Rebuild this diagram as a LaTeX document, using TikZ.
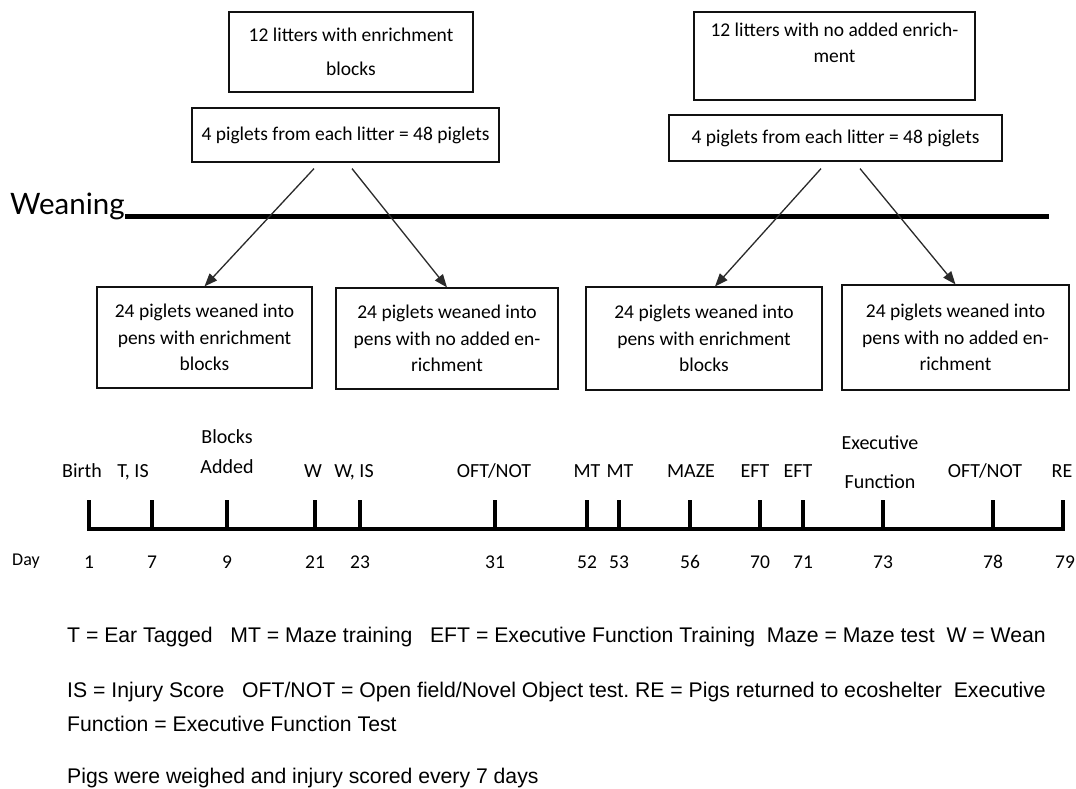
\documentclass[tikz,border=0pt]{standalone}
\usepackage{fontspec}
\setmainfont{Carlito}
\newfontfamily\weanfont{Lato}
\newfontfamily\keyfont{Liberation Sans}
\usepackage{tikz}
\usetikzlibrary{arrows.meta,calc}
\definecolor{ink}{HTML}{111111}
\definecolor{flowink}{HTML}{2A2A2A}
\tikzset{
  litter/.style={
    draw=ink,
    line width=1.2pt,
    fill=white,
    align=center,
    font=\fontsize{19.5}{26.5}\selectfont,
    inner sep=0pt
  },
  flow/.style={line width=1.3pt, draw=flowink, -{Triangle[length=13pt,width=10pt]}},
  weanline/.style={line width=5pt, draw=black},
  timeline/.style={line width=4.5pt, draw=black, line join=miter},
  daytick/.style={line width=4pt, draw=black},
  event/.style={font=\fontsize{20}{30}\selectfont, align=center, inner sep=0pt},
  daynum/.style={font=\fontsize{19.5}{22}\selectfont, inner sep=0pt},
  key/.style={font=\keyfont\fontsize{21.2}{34}\selectfont, anchor=base west, align=left, inner sep=0pt}
}

\begin{document}
\begin{tikzpicture}[x=1pt,y=-1pt]
\path[use as bounding box] (0,0) rectangle (1076,789);
\fill[white] (0,0) rectangle (1076,789);

\node[litter, minimum width=244pt, minimum height=80pt] (enrich) at (351,52) {12 litters with enrichment\\[8pt]blocks};
\node[litter, minimum width=307pt, minimum height=54pt] (enrichpick) at (345.5,135) {4 piglets from each litter = 48 piglets};
\node[litter, minimum width=281pt, minimum height=88pt] (plain) at (834.5,56) {12 litters with no added enrich-\\ment\\\mbox{}};
\node[litter, minimum width=333pt, minimum height=46pt] (plainpick) at (835.5,138) {4 piglets from each litter = 48 piglets};

\node[font=\weanfont\fontsize{29.5}{30}\selectfont, anchor=base west, inner sep=0pt] (weaning) at (10,214) {Weaning};
\coordinate (weanend) at (1049,216);
\draw[weanline] (weaning.base east |- weanend) -- (weanend);

\node[litter, minimum width=215pt, minimum height=101pt] (penblock1) at (204.5,337.5) {24 piglets weaned into\\pens with enrichment\\blocks};
\node[litter, minimum width=222pt, minimum height=101pt] (penplain1) at (447,338.5) {24 piglets weaned into\\pens with no added en-\\richment};
\node[litter, minimum width=236pt, minimum height=103pt] (penblock2) at (704,338.5) {24 piglets weaned into\\pens with enrichment\\blocks};
\node[litter, minimum width=227pt, minimum height=105pt] (penplain2) at (955.5,337.5) {24 piglets weaned into\\pens with no added en-\\richment};

\draw[flow] ([xshift=-31.5pt,yshift=-6pt]enrichpick.south) -- (penblock1.north);
\draw[flow] ([xshift=6.5pt,yshift=-6pt]enrichpick.south) -- (penplain1.north);
\draw[flow] ([xshift=-14.5pt,yshift=-7pt]plainpick.south) -- ([xshift=11pt]penblock2.north);
\draw[flow] ([xshift=24.5pt,yshift=-7pt]plainpick.south) -- (penplain2.north);

\coordinate (birth) at (89,529);
\coordinate (return) at (1063,529);
\draw[timeline] ([yshift=29pt]birth) -- (birth) -- (return) -- ([yshift=29pt]return);
\foreach \x in {152,227,315,360,495,587,619,690,760,803,883,993}
  \draw[daytick] (\x,500) -- (\x,529);

\foreach \x/\txt [count=\i] in {82/Birth, 133/{T, IS}, 313/W, 354/{W, IS}, 494/{OFT/NOT}, 587/MT, 620/MT, 691/MAZE, 755/EFT, 798/EFT, 985/{OFT/NOT}, 1062/RE}
  \node[event, anchor=base] (event\i) at (\x,477) {\txt};
\node[event] (blocks) at (227,452) {Blocks\\Added};
\node[event] (exec) at (880,462) {Executive\\[9pt]Function};

\node[daynum, font=\fontsize{18}{20}\selectfont] (day) at (26,561) {Day};
\foreach \x/\d in {89/1, 152/7, 227/9, 315/21, 360/23, 495/31, 587/52, 619/53, 690/56, 760/70, 803/71, 883/73, 993/78, 1065/79}
  \node[daynum] (day\d) at (\x,562) {\d};

\node[key] (keyone) at (67,642) {T = Ear Tagged~~~MT = Maze training~~~EFT = Executive Function Training~~Maze = Maze test~~W = Wean};
\node[key] (keytwo) at (67,731) {IS = Injury Score~~~OFT/NOT = Open field/Novel Object test.\ RE = Pigs returned to ecoshelter~~Executive\\Function = Executive Function Test};
\node[key] (keythree) at (67,783) {Pigs were weighed and injury scored every 7 days};
\end{tikzpicture}
\end{document}
